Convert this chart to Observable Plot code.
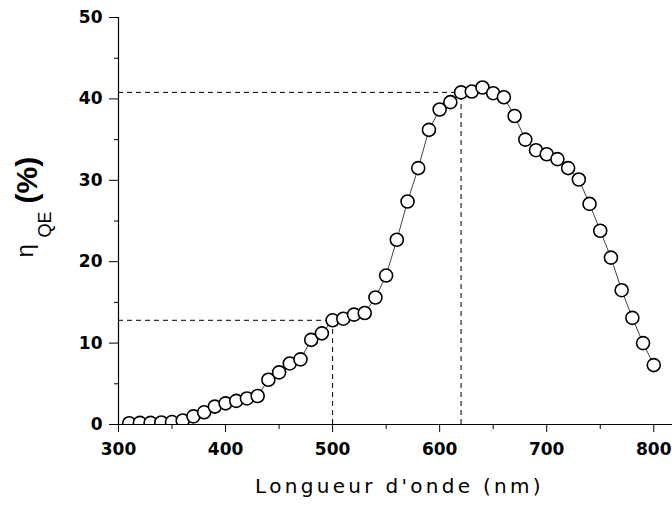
<!DOCTYPE html>
<html>
<head>
<meta charset="utf-8">
<script src="https://cdn.jsdelivr.net/npm/d3@7"></script>
<script src="https://cdn.jsdelivr.net/npm/@observablehq/plot@0.6"></script>
<style>
  html, body { margin: 0; padding: 0; background: #fff; }
  #chart svg { display: block; }
</style>
</head>
<body>
<div id="chart"></div>
<script>
// Data
const wavelength = [310, 320, 330, 340, 350, 360, 370, 380, 390, 400,
                    410, 420, 430, 440, 450, 460, 470, 480, 490, 500,
                    510, 520, 530, 540, 550, 560, 570, 580, 590, 600,
                    610, 620, 630, 640, 650, 660, 670, 680, 690, 700,
                    710, 720, 730, 740, 750, 760, 770, 780, 790, 800];
const qe = [0.15, 0.2, 0.2, 0.25, 0.3, 0.5, 1.0, 1.5, 2.2, 2.6,
            2.9, 3.2, 3.5, 5.5, 6.4, 7.5, 8.0, 10.4, 11.2, 12.8,
            13.0, 13.5, 13.7, 15.6, 18.3, 22.7, 27.4, 31.5, 36.2, 38.7,
            39.6, 40.8, 40.9, 41.4, 40.7, 40.2, 37.9, 35.0, 33.7, 33.2,
            32.6, 31.5, 30.1, 27.1, 23.8, 20.5, 16.5, 13.1, 10.0, 7.3];

// Dashed guide lines (wavelength, value)
const guideX = [500, 620];
const guideY = [12.8, 40.8];

const xTicks = [300, 400, 500, 600, 700, 800];
const xMinor = [350, 450, 550, 650, 750];
const yTicks = [0, 10, 20, 30, 40, 50];
const yMinor = [5, 15, 25, 35, 45];

const xLabel = "Longueur d'onde (nm)";
const yLabelMain = "η";
const yLabelSub = "QE";
const yLabelUnit = "(%)";

const data = wavelength.map((w, i) => ({w, v: qe[i]}));
const guides = guideX.map((w, i) => ({w, v: guideY[i]}));

const tickFont = "DejaVu Sans, sans-serif";
const labelFont = "Liberation Sans, Arial, sans-serif";

const chart = Plot.plot({
  width: 672,
  height: 505,
  marginLeft: 118,
  marginRight: 0,
  marginTop: 17,
  marginBottom: 81,
  style: {background: "#fff", overflow: "visible"},
  x: {domain: [300, 817.5], axis: null},
  y: {domain: [0, 50], axis: null},
  marks: [
    // dashed guides
    Plot.ruleY(guides, {y: "v", x1: 300, x2: "w", stroke: "#000", strokeWidth: 1, strokeDasharray: "5,4", strokeDashoffset: -9}),
    Plot.ruleX(guides, {x: "w", y1: 0, y2: "v", stroke: "#000", strokeWidth: 1, strokeDasharray: "5,4"}),
    // axis lines
    Plot.ruleX([300], {stroke: "#000", strokeWidth: 1.2}),
    Plot.ruleY([0], {stroke: "#000", strokeWidth: 1.2}),
    // ticks
    Plot.axisY({ticks: yTicks, tickSize: 9, tickPadding: 7, label: null, fontSize: 17, fontWeight: "bold", fontFamily: tickFont, stroke: "#000", fill: "#000"}),
    Plot.axisY({ticks: yMinor, tickSize: 4, label: null, tickFormat: () => "", stroke: "#000"}),
    Plot.axisX({ticks: xTicks, tickSize: 8, tickPadding: 10, label: null, fontSize: 17, fontWeight: "bold", fontFamily: tickFont, stroke: "#000", fill: "#000"}),
    Plot.axisX({ticks: xMinor, tickSize: 5, label: null, tickFormat: () => "", stroke: "#000"}),
    // data
    Plot.line(data, {x: "w", y: "v", stroke: "#444", strokeWidth: 1, clip: true}),
    Plot.dot(data, {x: "w", y: "v", r: 6.5, fill: "#fff", stroke: "#000", strokeWidth: 1.6, clip: true}),
    // axis titles
    Plot.text([xLabel], {frameAnchor: "bottom", dy: 68, dx: 4, lineAnchor: "bottom", fontSize: 20, fontFamily: tickFont, fill: "#000"}),
    Plot.text([yLabelMain], {frameAnchor: "left", dx: -86, dy: 36.5, rotate: -90, textAnchor: "start", lineAnchor: "bottom", fontSize: 24, fontFamily: labelFont, fill: "#000"}),
    Plot.text([yLabelSub], {frameAnchor: "left", dx: -68, dy: 16.5, rotate: -90, textAnchor: "start", lineAnchor: "bottom", fontSize: 18, fontFamily: labelFont, fill: "#000"}),
    Plot.text([yLabelUnit], {frameAnchor: "left", dx: -82, dy: -17.5, rotate: -90, textAnchor: "start", lineAnchor: "bottom", fontSize: 30, fontWeight: "bold", fontFamily: labelFont, fill: "#000"})
  ]
});

d3.select(chart).selectAll("text")
  .filter(function() { return this.textContent === xLabel; })
  .style("letter-spacing", "3.3px");

document.getElementById("chart").appendChild(chart);
</script>
</body>
</html>
